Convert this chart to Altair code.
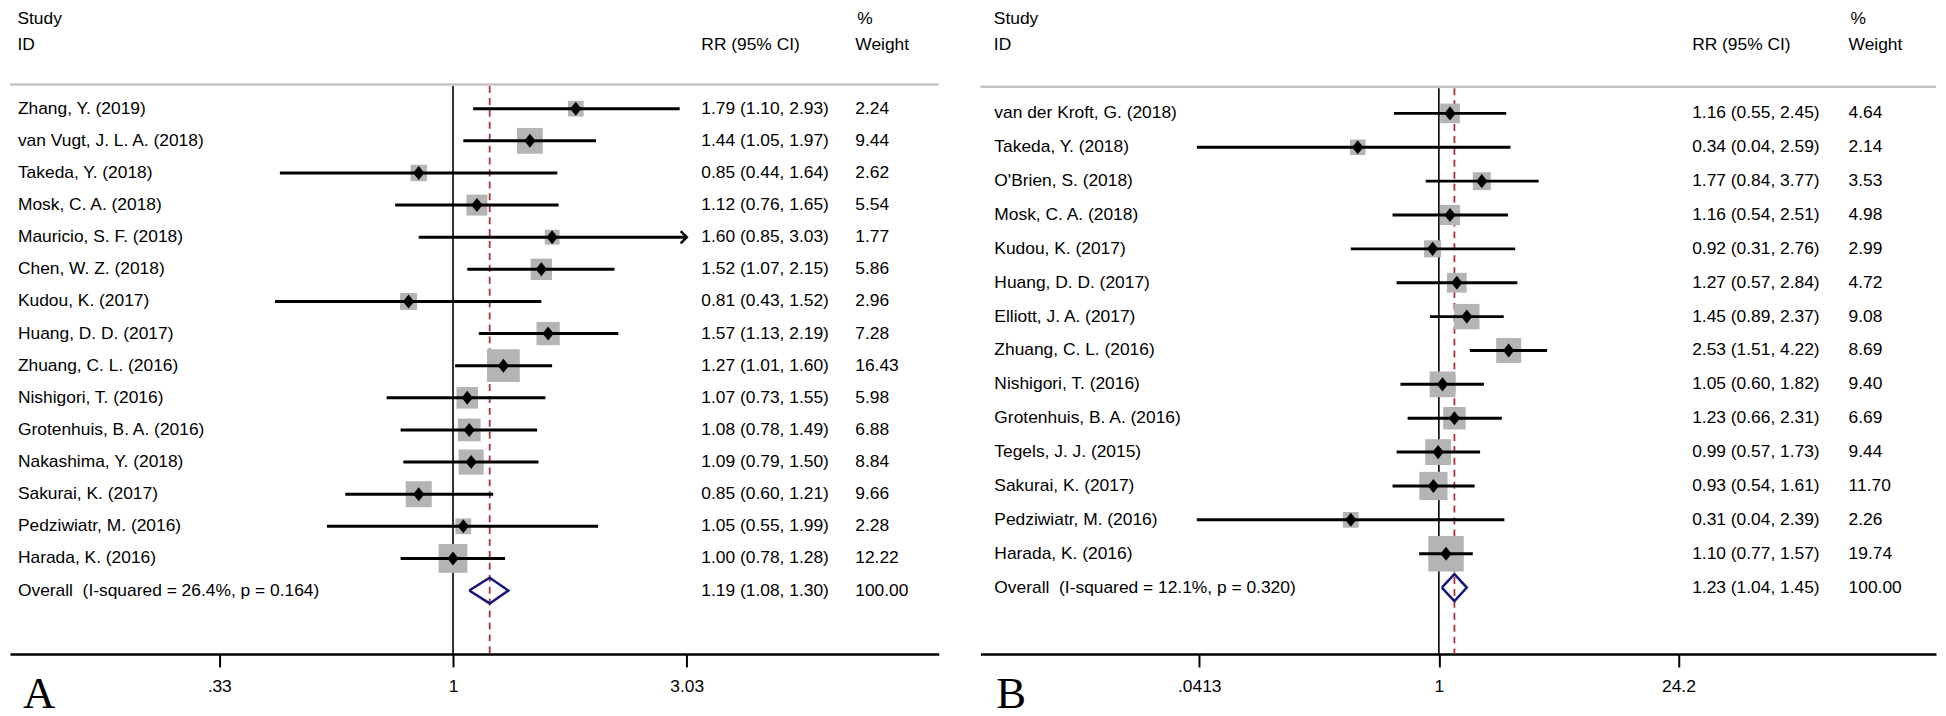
import math
import altair as alt
import pandas as pd

FONT = "Liberation Sans"
FS = 17.5

# ---------------- Panel A data ----------------
studies_a = ["Zhang, Y. (2019)", "van Vugt, J. L. A. (2018)", "Takeda, Y. (2018)",
             "Mosk, C. A. (2018)", "Mauricio, S. F. (2018)", "Chen, W. Z. (2018)",
             "Kudou, K. (2017)", "Huang, D. D. (2017)", "Zhuang, C. L. (2016)",
             "Nishigori, T. (2016)", "Grotenhuis, B. A. (2016)", "Nakashima, Y. (2018)",
             "Sakurai, K. (2017)", "Pedziwiatr, M. (2016)", "Harada, K. (2016)"]
rr_a = [1.79, 1.44, 0.85, 1.12, 1.60, 1.52, 0.81, 1.57, 1.27, 1.07, 1.08, 1.09, 0.85, 1.05, 1.00]
lo_a = [1.10, 1.05, 0.44, 0.76, 0.85, 1.07, 0.43, 1.13, 1.01, 0.73, 0.78, 0.79, 0.60, 0.55, 0.78]
hi_a = [2.93, 1.97, 1.64, 1.65, 3.03, 2.15, 1.52, 2.19, 1.60, 1.55, 1.49, 1.50, 1.21, 1.99, 1.28]
w_a = [2.24, 9.44, 2.62, 5.54, 1.77, 5.86, 2.96, 7.28, 16.43, 5.98, 6.88, 8.84, 9.66, 2.28, 12.22]
overall_label_a = "Overall\u00a0 (I-squared = 26.4%, p = 0.164)"
overall_a = [1.19, 1.08, 1.30, 100.00]  # rr, lo, hi, weight
ticks_a = [0.33, 1, 3.03]
tick_labels_a = [".33", "1", "3.03"]
truncated_a = ["Mauricio, S. F. (2018)"]

# ---------------- Panel B data ----------------
studies_b = ["van der Kroft, G. (2018)", "Takeda, Y. (2018)", "O'Brien, S. (2018)",
             "Mosk, C. A. (2018)", "Kudou, K. (2017)", "Huang, D. D. (2017)",
             "Elliott, J. A. (2017)", "Zhuang, C. L. (2016)", "Nishigori, T. (2016)",
             "Grotenhuis, B. A. (2016)", "Tegels, J. J. (2015)", "Sakurai, K. (2017)",
             "Pedziwiatr, M. (2016)", "Harada, K. (2016)"]
rr_b = [1.16, 0.34, 1.77, 1.16, 0.92, 1.27, 1.45, 2.53, 1.05, 1.23, 0.99, 0.93, 0.31, 1.10]
lo_b = [0.55, 0.04, 0.84, 0.54, 0.31, 0.57, 0.89, 1.51, 0.60, 0.66, 0.57, 0.54, 0.04, 0.77]
hi_b = [2.45, 2.59, 3.77, 2.51, 2.76, 2.84, 2.37, 4.22, 1.82, 2.31, 1.73, 1.61, 2.39, 1.57]
w_b = [4.64, 2.14, 3.53, 4.98, 2.99, 4.72, 9.08, 8.69, 9.40, 6.69, 9.44, 11.70, 2.26, 19.74]
overall_label_b = "Overall\u00a0 (I-squared = 12.1%, p = 0.320)"
overall_b = [1.23, 1.04, 1.45, 100.00]
ticks_b = [0.0413, 1, 24.2]
tick_labels_b = [".0413", "1", "24.2"]
truncated_b = []

# ---------------- layout (pixels) ----------------
LAY_A = dict(width=935, height=648, one_px=446, px_per_log=212.3, row0=99, step=32.34,
             hline=74.7, name_x=8, rr_x=696, w_x=851, letter_x=13,
             size_range=[118, 1298], letter="A")
LAY_B = dict(width=962, height=648, one_px=461.5, px_per_log=75.7, row0=103.7, step=34.1,
             hline=77, name_x=14, rr_x=716.5, w_x=874, letter_x=16,
             size_range=[40, 1140], letter="B")


def label_expr(ticks, labels):
    parts = [f"abs(datum.value - {t}) < {t * 1e-3} ? '{l}'" for t, l in zip(ticks, labels)]
    return " : ".join(parts) + " : ''"


def text_layer(label, x, y, size=FS, font=FONT, baseline="middle"):
    return alt.Chart(pd.DataFrame({"t": [label]})).mark_text(
        align="left", baseline=baseline, font=font, fontSize=size, color="black"
    ).encode(x=alt.value(x), y=alt.value(y), text="t:N")


def panel(studies, rr, lo, hi, w, ov_label, ov, ticks, tick_labels, truncated, L):
    n = len(studies)
    W, H = L["width"], L["height"]
    dmin = math.exp(-L["one_px"] / L["px_per_log"])
    dmax = math.exp((W - L["one_px"]) / L["px_per_log"])
    xscale = alt.Scale(type="log", domain=[dmin, dmax], nice=False)
    yscale = alt.Scale(domain=[-L["row0"] / L["step"], (H - L["row0"]) / L["step"]],
                       reverse=True, nice=False, zero=False)
    xaxis = alt.Axis(values=ticks, labelExpr=label_expr(ticks, tick_labels), title=None,
                     grid=False, domainColor="black", domainWidth=2.5, tickColor="black",
                     tickWidth=2, tickSize=13, labelFont=FONT, labelFontSize=FS,
                     labelColor="black", labelPadding=11, labelFlush=False,
                     labelOverlap=False)

    def X(field=None, datum=None):
        if datum is not None:
            return alt.X(datum=datum, type="quantitative", scale=xscale, axis=xaxis)
        return alt.X(field, type="quantitative", scale=xscale, axis=xaxis)

    Y = alt.Y("row:Q", scale=yscale, axis=None)

    df = pd.DataFrame({"row": list(range(n)), "study": studies, "rr": rr, "lo": lo,
                       "hi": hi, "w": w})
    df["rr_text"] = [f"{a:.2f} ({b:.2f}, {c:.2f})" for a, b, c in zip(rr, lo, hi)]
    df["w_text"] = [f"{v:.2f}" for v in w]
    ovdf = pd.DataFrame({"row": [n], "study": [ov_label], "rr": [ov[0]], "lo": [ov[1]],
                         "hi": [ov[2]], "w": [ov[3]],
                         "rr_text": [f"{ov[0]:.2f} ({ov[1]:.2f}, {ov[2]:.2f})"],
                         "w_text": [f"{ov[3]:.2f}"]})
    alldf = pd.concat([df, ovdf], ignore_index=True)
    trunc = df[df["study"].isin(truncated)]
    dia = pd.DataFrame({"x": [ov[1], ov[0], ov[2], ov[0], ov[1]],
                        "row": [n, n - 0.4, n, n + 0.4, n],
                        "k": [0, 1, 2, 3, 4]})

    base = alt.Chart(df)
    layers = []
    # header gray line
    layers.append(alt.Chart(pd.DataFrame({"a": [0]})).mark_rule(color="#c4c4c4", strokeWidth=2.5)
                  .encode(x=alt.value(0), x2=alt.value(W), y=alt.value(L["hline"])))
    # null line at 1
    layers.append(alt.Chart(pd.DataFrame({"a": [0]})).mark_rule(color="black", strokeWidth=1.6)
                  .encode(x=X(datum=1), y=alt.value(L["hline"] + 1.5), y2=alt.value(H)))
    # overall dashed line
    layers.append(alt.Chart(pd.DataFrame({"a": [0]})).mark_rule(
        color="#b0303a", strokeWidth=1.8, strokeDash=[7, 5])
        .encode(x=X(datum=ov[0]), y=alt.value(L["hline"] + 1.5), y2=alt.value(H)))
    # weight squares
    layers.append(base.mark_square(color="#b4b4b4", opacity=1).encode(
        x=X("rr"), y=Y,
        size=alt.Size("w:Q", scale=alt.Scale(domain=[0, 20], range=L["size_range"]),
                      legend=None)))
    # CI lines
    layers.append(base.mark_rule(color="black", strokeWidth=3).encode(
        x=X("lo"), x2="hi:Q", y=Y))
    # arrows for truncated CIs
    if len(trunc):
        layers.append(alt.Chart(trunc).mark_point(
            shape="M-1,-1L0,0L-1,1", filled=False, color="black", strokeWidth=2.5,
            size=150, opacity=1).encode(x=X("hi"), y=Y))
    # point estimate diamonds
    layers.append(base.mark_point(shape="M0,-1L0.8,0L0,1L-0.8,0Z", filled=True,
                                  color="black", size=200, opacity=1)
                  .encode(x=X("rr"), y=Y))
    # overall diamond
    layers.append(alt.Chart(dia).mark_line(color="#16167c", strokeWidth=2.5)
                  .encode(x=X("x"), y=Y, order=alt.Order("k:Q")))
    # text columns
    tb = alt.Chart(alldf)
    layers.append(tb.mark_text(align="left", baseline="middle", font=FONT, fontSize=FS,
                               color="black")
                  .encode(x=alt.value(L["name_x"]), y=Y, text="study:N"))
    layers.append(tb.mark_text(align="left", baseline="middle", font=FONT, fontSize=FS,
                               color="black")
                  .encode(x=alt.value(L["rr_x"]), y=Y, text="rr_text:N"))
    layers.append(tb.mark_text(align="left", baseline="middle", font=FONT, fontSize=FS,
                               color="black")
                  .encode(x=alt.value(L["w_x"]), y=Y, text="w_text:N"))
    # headers
    layers.append(text_layer("Study", L["name_x"] - 0.5, 9))
    layers.append(text_layer("ID", L["name_x"] - 0.5, 35))
    layers.append(text_layer("RR (95% CI)", L["rr_x"], 35))
    layers.append(text_layer("%", L["w_x"] + 2, 9))
    layers.append(text_layer("Weight", L["w_x"], 35))
    # panel letter
    layers.append(text_layer(L["letter"], L["letter_x"], 702, size=45,
                             font="Liberation Serif", baseline="alphabetic"))

    return alt.layer(*layers).properties(width=W, height=H)


pa = panel(studies_a, rr_a, lo_a, hi_a, w_a, overall_label_a, overall_a,
           ticks_a, tick_labels_a, truncated_a, LAY_A)
pb = panel(studies_b, rr_b, lo_b, hi_b, w_b, overall_label_b, overall_b,
           ticks_b, tick_labels_b, truncated_b, LAY_B)

chart = alt.hconcat(pa, pb, spacing=38, padding=0).configure_view(stroke=None)
chart.save("out.html", embed_options={"renderer": "svg", "actions": False})
